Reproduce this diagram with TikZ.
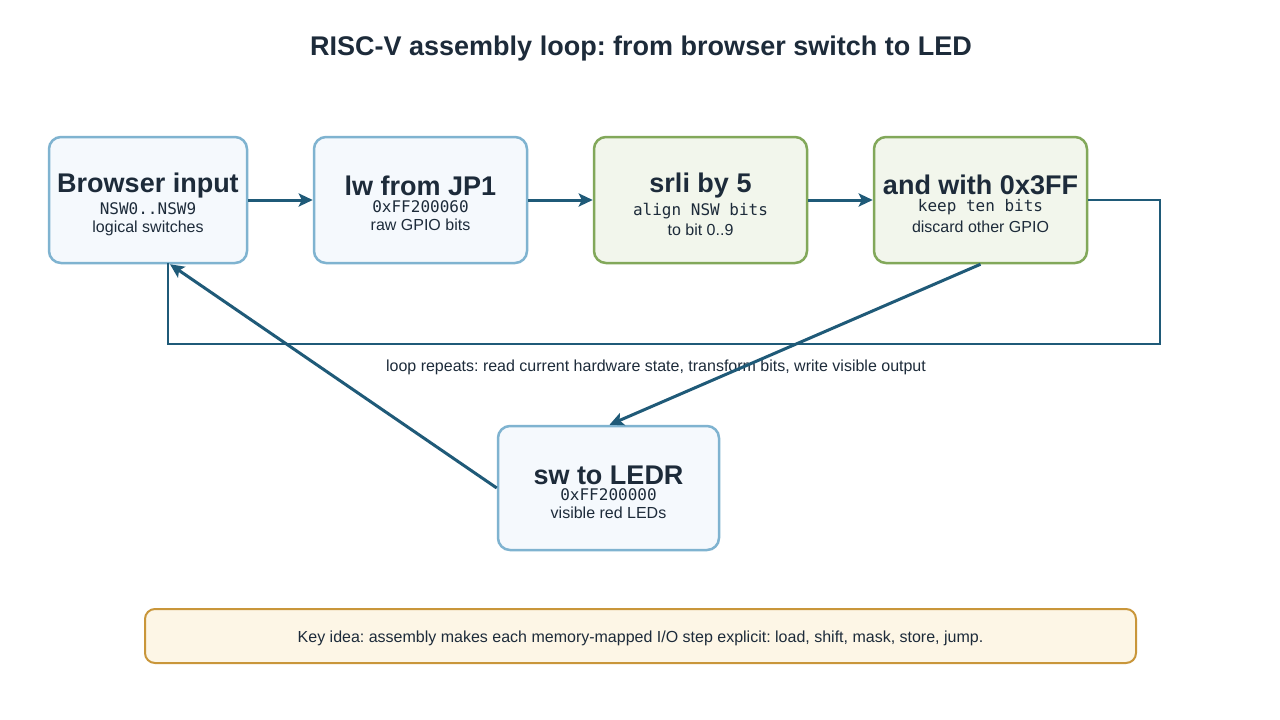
\documentclass[tikz,border=0pt]{standalone}
\usepackage{fontspec}
\setmainfont{Liberation Sans}
\setmonofont{DejaVu Sans Mono}
\usetikzlibrary{arrows.meta}
\frenchspacing
\definecolor{ink}{HTML}{1D2B3A}
\definecolor{arr}{HTML}{1F5A78}
\definecolor{bluefill}{HTML}{F5F9FD}
\definecolor{blueline}{HTML}{7FB3D0}
\definecolor{greenfill}{HTML}{F2F6EC}
\definecolor{greenline}{HTML}{82A85A}
\definecolor{keyfill}{HTML}{FDF6E6}
\definecolor{keyline}{HTML}{C9963A}
\tikzset{
  box/.style={draw, line width=2.5pt, rounded corners=12pt, inner sep=0pt},
  bluebox/.style={box, draw=blueline, fill=bluefill},
  greenbox/.style={box, draw=greenline, fill=greenfill},
  keybox/.style={box, draw=keyline, fill=keyfill, line width=2pt, rounded corners=10pt},
  ttl/.style={text=ink, font=\fontsize{27}{30}\selectfont\bfseries, inner sep=0pt, anchor=base, text height=18pt, text depth=0pt},
  mono/.style={text=ink, font=\fontsize{16}{18}\selectfont\ttfamily, inner sep=0pt, anchor=base, text height=10pt, text depth=0pt},
  sub/.style={text=ink, font=\fontsize{16}{18}\selectfont, inner sep=0pt, anchor=base, text height=10pt, text depth=2pt},
  flow/.style={draw=arr, line width=3pt, -{Stealth[length=14pt,width=13pt,inset=3pt]}},
  loopline/.style={draw=arr, line width=1.8pt},
}
\begin{document}
\begin{tikzpicture}[x=1pt,y=-1pt]
\useasboundingbox (0,0) rectangle (1280,720);
\fill[white] (0,0) rectangle (1280,720);
\node[text=ink, font=\fontsize{27}{30}\selectfont\bfseries, inner sep=0pt, anchor=base] (title) at (641,55) {RISC-V assembly loop: from browser switch to LED};

\node[bluebox, minimum width=198pt, minimum height=126pt] (browser) at (148,200) {};
\node[bluebox, minimum width=213pt, minimum height=126pt] (lw) at (420.5,200) {};
\node[greenbox, minimum width=213pt, minimum height=126pt] (srli) at (700.5,200) {};
\node[greenbox, minimum width=213pt, minimum height=126pt] (and) at (980.5,200) {};
\node[bluebox, minimum width=221pt, minimum height=124pt] (ledr) at (608.5,488) {};
\node[keybox, minimum width=991pt, minimum height=54pt] (key) at (640.5,636) {};

\node[ttl] (browserT) at (148,192) {Browser input};
\node[mono] (browserM) at (148,214) {NSW0..NSW9};
\node[sub] (browserS) at (148,232) {logical switches};

\node[ttl] (lwT) at (420.5,195) {lw from JP1};
\node[mono] (lwM) at (420.5,212) {0xFF200060};
\node[sub] (lwS) at (420.5,230.5) {raw GPIO bits};

\node[ttl] (srliT) at (700.5,192) {srli by 5};
\node[mono] (srliM) at (700.5,215) {align NSW bits};
\node[sub] (srliS) at (700.5,235.5) {to bit 0..9};

\node[ttl] (andT) at (980.5,194) {and with 0x3FF};
\node[mono] (andM) at (980.5,211) {keep ten bits};
\node[sub] (andS) at (980.5,232) {discard other GPIO};

\node[ttl] (ledrT) at (608.5,484) {sw to LEDR};
\node[mono] (ledrM) at (608.5,500) {0xFF200000};
\node[sub] (ledrS) at (608.5,518.5) {visible red LEDs};

\node[sub] (keyT) at (640.5,642) {Key idea: assembly makes each memory-mapped I/O step explicit: load, shift, mask, store, jump.};

\node[sub] (loopT) at (656,371) {loop repeats: read current hardware state, transform bits, write visible output};

\coordinate (c1) at (1160,200);
\coordinate (c2) at (1160,344);
\coordinate (c3) at (168,344);
\coordinate (c4) at (168,263);
\draw[loopline] (and.east) -- (c1) -- (c2) -- (c3) -- (c4);

\draw[flow] (browser.east) -- (lw.west);
\draw[flow] (lw.east) -- (srli.west);
\draw[flow] (srli.east) -- (and.west);
\draw[flow] (and.south) -- ([xshift=1pt]ledr.north);
\draw[flow] (ledr.west) -- ([xshift=22pt]browser.south);
\end{tikzpicture}
\end{document}
